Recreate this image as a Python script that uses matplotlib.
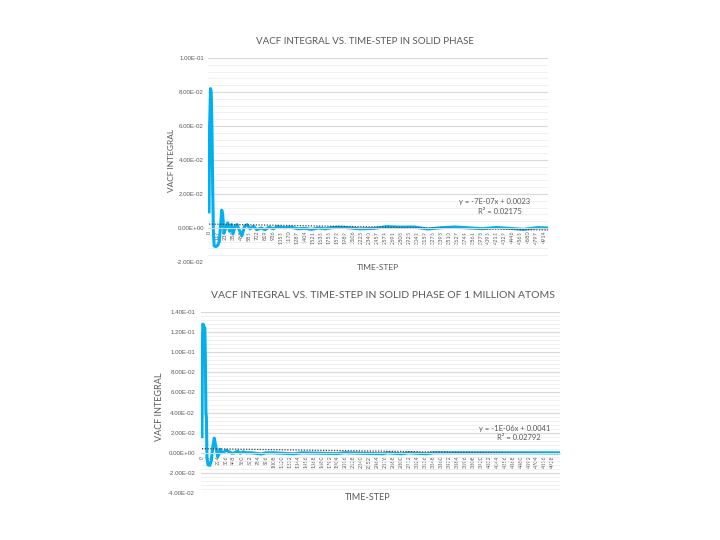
import numpy as np
import matplotlib
matplotlib.use("Agg")
import matplotlib.pyplot as plt
from matplotlib.ticker import FuncFormatter, MultipleLocator

plt.rcParams['font.family'] = ['Lato', 'DejaVu Sans']

# solid phase run: time-step and VACF integral
steps_a = [0, 8, 14, 22, 32, 44, 55, 64, 75, 100, 130, 150, 170, 186, 200, 219, 245,
           273, 300, 330, 351, 380, 409, 440, 482, 520, 560, 600, 650, 700, 760, 820,
           880, 940, 1000, 1100, 1200, 1300, 1400, 1500, 1600, 1700, 1800, 1900, 2000,
           2200, 2400, 2600, 2800, 3000, 3200, 3400, 3600, 3800, 4000, 4200, 4400,
           4600, 4800, 4990]
vacf_a = [0.0095, 0.060, 0.068, 0.082, 0.080, 0.055, 0.020, -0.002, -0.0105, -0.011,
          -0.010, -0.008, 0.002, 0.0105, 0.008, -0.003, 0.000, 0.003, -0.002, 0.002,
          -0.0035, 0.001, 0.002, -0.001, -0.0045, 0.001, 0.002, -0.0005, 0.001, -0.001,
          0.000, -0.001, 0.0005, -0.0005, 0.0008, 0.0002, 0.0005, -0.0005, -0.0002,
          -0.0008, 0.0, -0.0005, 0.0002, 0.0005, 0.0003, -0.0005, -0.0003, 0.0008,
          0.0005, 0.0006, -0.0006, 0.0002, 0.0006, 0.0001, -0.0004, 0.0003, -0.0002,
          -0.0008, 0.0002, 0.0]
trend_a = (-7e-07, 0.0023)
label_a = ("y = -7E-07x + 0.0023", "R² = 0.02175")
xticks_a = list(range(0, 4915, 117))

# 1 million atoms run
steps_b = [0, 6, 12, 25, 40, 48, 55, 62, 70, 84, 110, 130, 150, 172, 190, 220, 240,
           255, 280, 310, 340, 380, 420, 460, 500, 540, 580, 620, 700, 830, 900, 1000,
           1290, 1400, 1900, 2000, 2540, 2600, 2800, 2900, 3150, 3250, 4000, 5020]
vacf_b = [0.016, 0.110, 0.128, 0.126, 0.124, 0.090, 0.040, 0.035, -0.005, -0.012,
          -0.0125, -0.008, 0.005, 0.0145, 0.008, -0.004, -0.001, 0.0035, 0.0, 0.001,
          0.0025, 0.001, -0.0005, 0.0, 0.0015, -0.0005, 0.001, 0.0, 0.0, -0.0012, 0.0,
          0.0, -0.001, 0.0, -0.0008, 0.0, -0.001, 0.0, -0.001, 0.0, -0.001, 0.0, 0.0,
          0.0]
trend_b = (-1e-06, 0.0041)
label_b = ("y = -1E-06x + 0.0041", "R² = 0.02792")
xticks_b = list(range(0, 4929, 112))

grey = '#595959'
blue = '#00b0f0'

fig = plt.figure(figsize=(7.2, 5.4), dpi=100)


def panel(rect, steps, vacf, trend, xticks, ylim, xlim, ypad):
    ax = fig.add_axes(rect)
    # x axis crosses at zero, like the spreadsheet chart
    for s in ['top', 'right', 'left']:
        ax.spines[s].set_visible(False)
    ax.spines['bottom'].set_position(('data', 0))
    ax.spines['bottom'].set_color('#d9d9d9')

    ax.plot(steps, vacf, color=blue, lw=2.2, solid_joinstyle='round')
    tx = np.array([0, steps[-1]])
    ax.plot(tx, trend[0] * tx + trend[1], color='#4a4040', lw=0.9, ls=(0, (1, 1.2)))
    ax.set_xlim(*xlim)
    ax.set_ylim(*ylim)
    ax.yaxis.set_major_locator(MultipleLocator(0.02))
    ax.yaxis.set_minor_locator(MultipleLocator(0.004))
    ax.yaxis.set_major_formatter(FuncFormatter(lambda v, p: f"{v:.2E}"))
    ax.grid(which='major', axis='y', color='#d9d9d9', lw=0.8)
    ax.grid(which='minor', axis='y', color='#efefef', lw=0.6)
    ax.set_axisbelow(True)
    ax.set_xticks(xticks)
    ax.set_xticklabels([str(t) for t in xticks], rotation=90, fontsize=4.0,
                       color=grey, va='top', ha='center')
    ax.tick_params(axis='both', which='both', length=0)
    ax.tick_params(axis='x', pad=2)
    ax.tick_params(axis='y', labelsize=4.4, labelcolor=grey, pad=ypad)
    for t in ax.get_yticklabels():
        t.set_family('Liberation Sans')
    return ax


panel([208 / 720, 1 - 262 / 540, 340 / 720, 204 / 540], steps_a, vacf_a, trend_a,
      xticks_a, (-0.02, 0.1), (-15, 4960), 3)
panel([201 / 720, 1 - 493 / 540, 359 / 720, 181 / 540], steps_b, vacf_b, trend_b,
      xticks_b, (-0.04, 0.14), (-14, 5028), 4.3)

fig.text(365 / 720, 1 - 42 / 540, "VACF INTEGRAL VS. TIME-STEP IN SOLID PHASE",
         ha='center', va='center', fontsize=7, color=grey)
fig.text(383 / 720, 1 - 296 / 540,
         "VACF INTEGRAL VS. TIME-STEP IN SOLID PHASE OF 1 MILLION ATOMS",
         ha='center', va='center', fontsize=7.5, color=grey)
fig.text(171 / 720, 1 - 160 / 540, "VACF INTEGRAL", rotation=90, ha='center',
         va='center', fontsize=6, color=grey)
fig.text(159 / 720, 1 - 407 / 540, "VACF INTEGRAL", rotation=90, ha='center',
         va='center', fontsize=6.5, color=grey)
fig.text(378 / 720, 1 - 268 / 540, "TIME-STEP", ha='center', va='center',
         fontsize=6, color=grey)
fig.text(368 / 720, 1 - 497 / 540, "TIME-STEP", ha='center', va='center',
         fontsize=6.5, color=grey)

fig.text(495 / 720, 1 - 202 / 540, label_a[0], ha='center', va='center', fontsize=5.5, color=grey)
fig.text(500 / 720, 1 - 212 / 540, label_a[1], ha='center', va='center', fontsize=5.5, color=grey)
fig.text(515 / 720, 1 - 428 / 540, label_b[0], ha='center', va='center', fontsize=5.5, color=grey)
fig.text(519 / 720, 1 - 438 / 540, label_b[1], ha='center', va='center', fontsize=5.5, color=grey)

fig.savefig("out.png", dpi=100)
